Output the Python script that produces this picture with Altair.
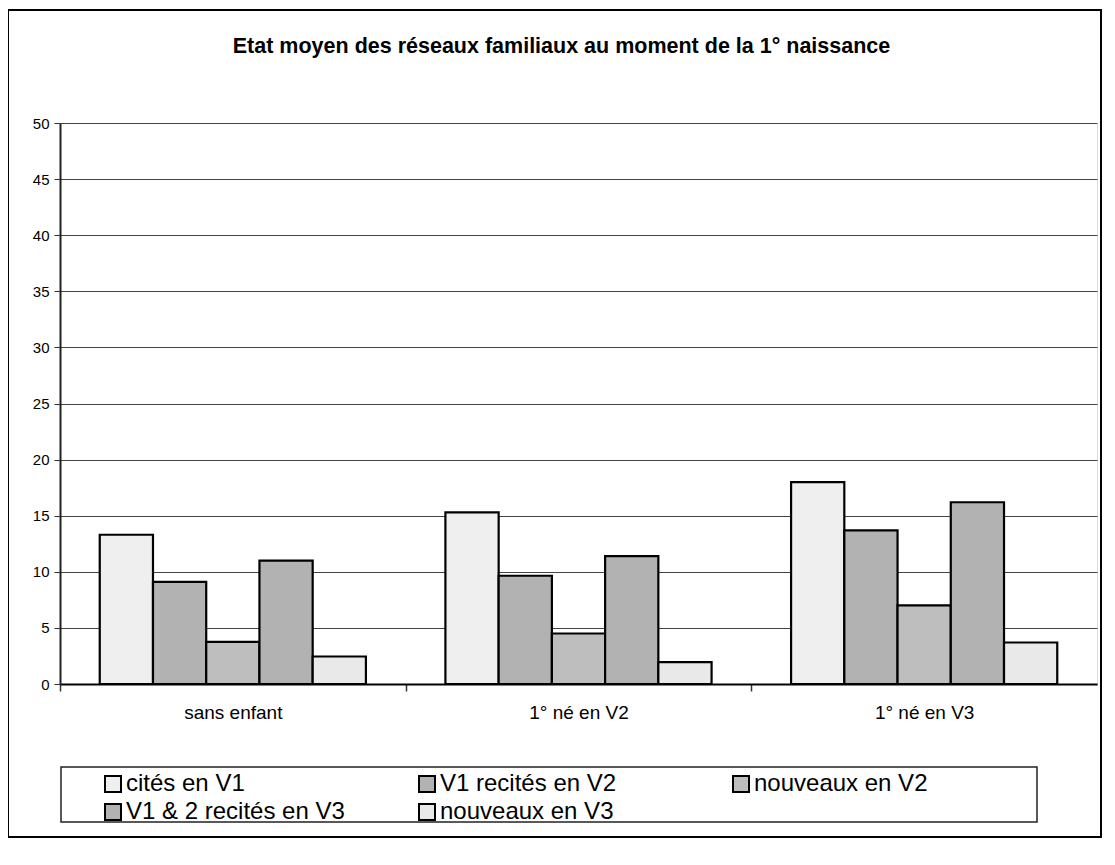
import altair as alt
import pandas as pd

categories = ["sans enfant", "1° né en V2", "1° né en V3"]
series = ["cités en V1", "V1 recités en V2", "nouveaux en V2",
          "V1 & 2 recités en V3", "nouveaux en V3"]
cites_v1 = [13.3, 15.3, 18.0]
v1_recites_v2 = [9.1, 9.65, 13.7]
nouveaux_v2 = [3.75, 4.5, 7.0]
v12_recites_v3 = [11.0, 11.4, 16.2]
nouveaux_v3 = [2.45, 1.95, 3.7]
colors = ["#EFEFEF", "#B2B2B2", "#BEBEBE", "#B2B2B2", "#E9E9E9"]
y_ticks = list(range(0, 51, 5))

all_values = [cites_v1, v1_recites_v2, nouveaux_v2, v12_recites_v3, nouveaux_v3]
rows = []
for s, vals in zip(series, all_values):
    for c, v in zip(categories, vals):
        rows.append({"categorie": c, "serie": s, "valeur": v})
df = pd.DataFrame(rows)

FONT = "Liberation Sans"
W = 1037
H = 561
half_step = W / len(categories) / 2

bars = alt.Chart(df).mark_bar(stroke="black", strokeWidth=2.2, opacity=1).encode(
    x=alt.X("categorie:N", sort=categories, title=None,
            scale=alt.Scale(paddingInner=0.23, paddingOuter=0.115),
            axis=alt.Axis(labelAngle=0, labelFontSize=19, labelColor="black",
                          labelFont=FONT, labelPadding=12,
                          tickOffset=-half_step, labelOffset=half_step,
                          tickSize=7, tickColor="#333333", tickWidth=1.5,
                          domainColor="black", domainWidth=2, grid=False)),
    xOffset=alt.XOffset("serie:N", sort=series,
                        scale=alt.Scale(paddingInner=0, paddingOuter=0)),
    y=alt.Y("valeur:Q", title=None,
            scale=alt.Scale(domain=[0, 50], nice=False),
            axis=alt.Axis(values=y_ticks, labelFontSize=15, labelColor="black",
                          labelFont=FONT, labelPadding=5, tickSize=6,
                          tickColor="#333333", domainColor="#222222",
                          domainWidth=2, gridColor="#444444", gridWidth=1)),
    color=alt.Color("serie:N", sort=series,
                    scale=alt.Scale(domain=series, range=colors),
                    legend=alt.Legend(title=None, orient="none", legendX=41,
                                      legendY=649, columns=3, direction="horizontal",
                                      gridAlign="all", columnPadding=70,
                                      rowPadding=4,
                                      labelFontSize=24, labelFont=FONT,
                                      labelColor="black", labelLimit=400,
                                      symbolType="square", symbolSize=256,
                                      symbolStrokeColor="black",
                                      symbolStrokeWidth=2, symbolOpacity=1,
                                      labelOffset=1,
                                      padding=0, offset=0)),
)

frame = alt.Chart(alt.Data(values=[{}])).mark_rect(
    fill=None, stroke="black", strokeWidth=2, clip=False
).encode(
    x=alt.value(-52), x2=alt.value(1041), y=alt.value(-113), y2=alt.value(714)
)

legend_box = alt.Chart(alt.Data(values=[{}])).mark_rect(
    fill=None, stroke="#222222", strokeWidth=1.5, clip=False
).encode(
    x=alt.value(1), x2=alt.value(977), y=alt.value(644), y2=alt.value(699)
)

chart = alt.layer(frame, legend_box, bars).properties(
    width=W,
    height=H,
    title=alt.TitleParams(
        "Etat moyen des réseaux familiaux au moment de la 1° naissance",
        font=FONT, fontSize=21.5, fontWeight="bold", color="black",
        anchor="middle", frame="group", dx=-17, offset=-65,
        baseline="alphabetic",
    ),
    autosize=alt.AutoSizeParams(type="none"),
    padding={"left": 52, "top": 115, "right": 10, "bottom": 160},
).configure_view(
    stroke="#808080", strokeWidth=2
).configure(background="white")

chart.save("out.html", embed_options={"renderer": "svg", "actions": False})
